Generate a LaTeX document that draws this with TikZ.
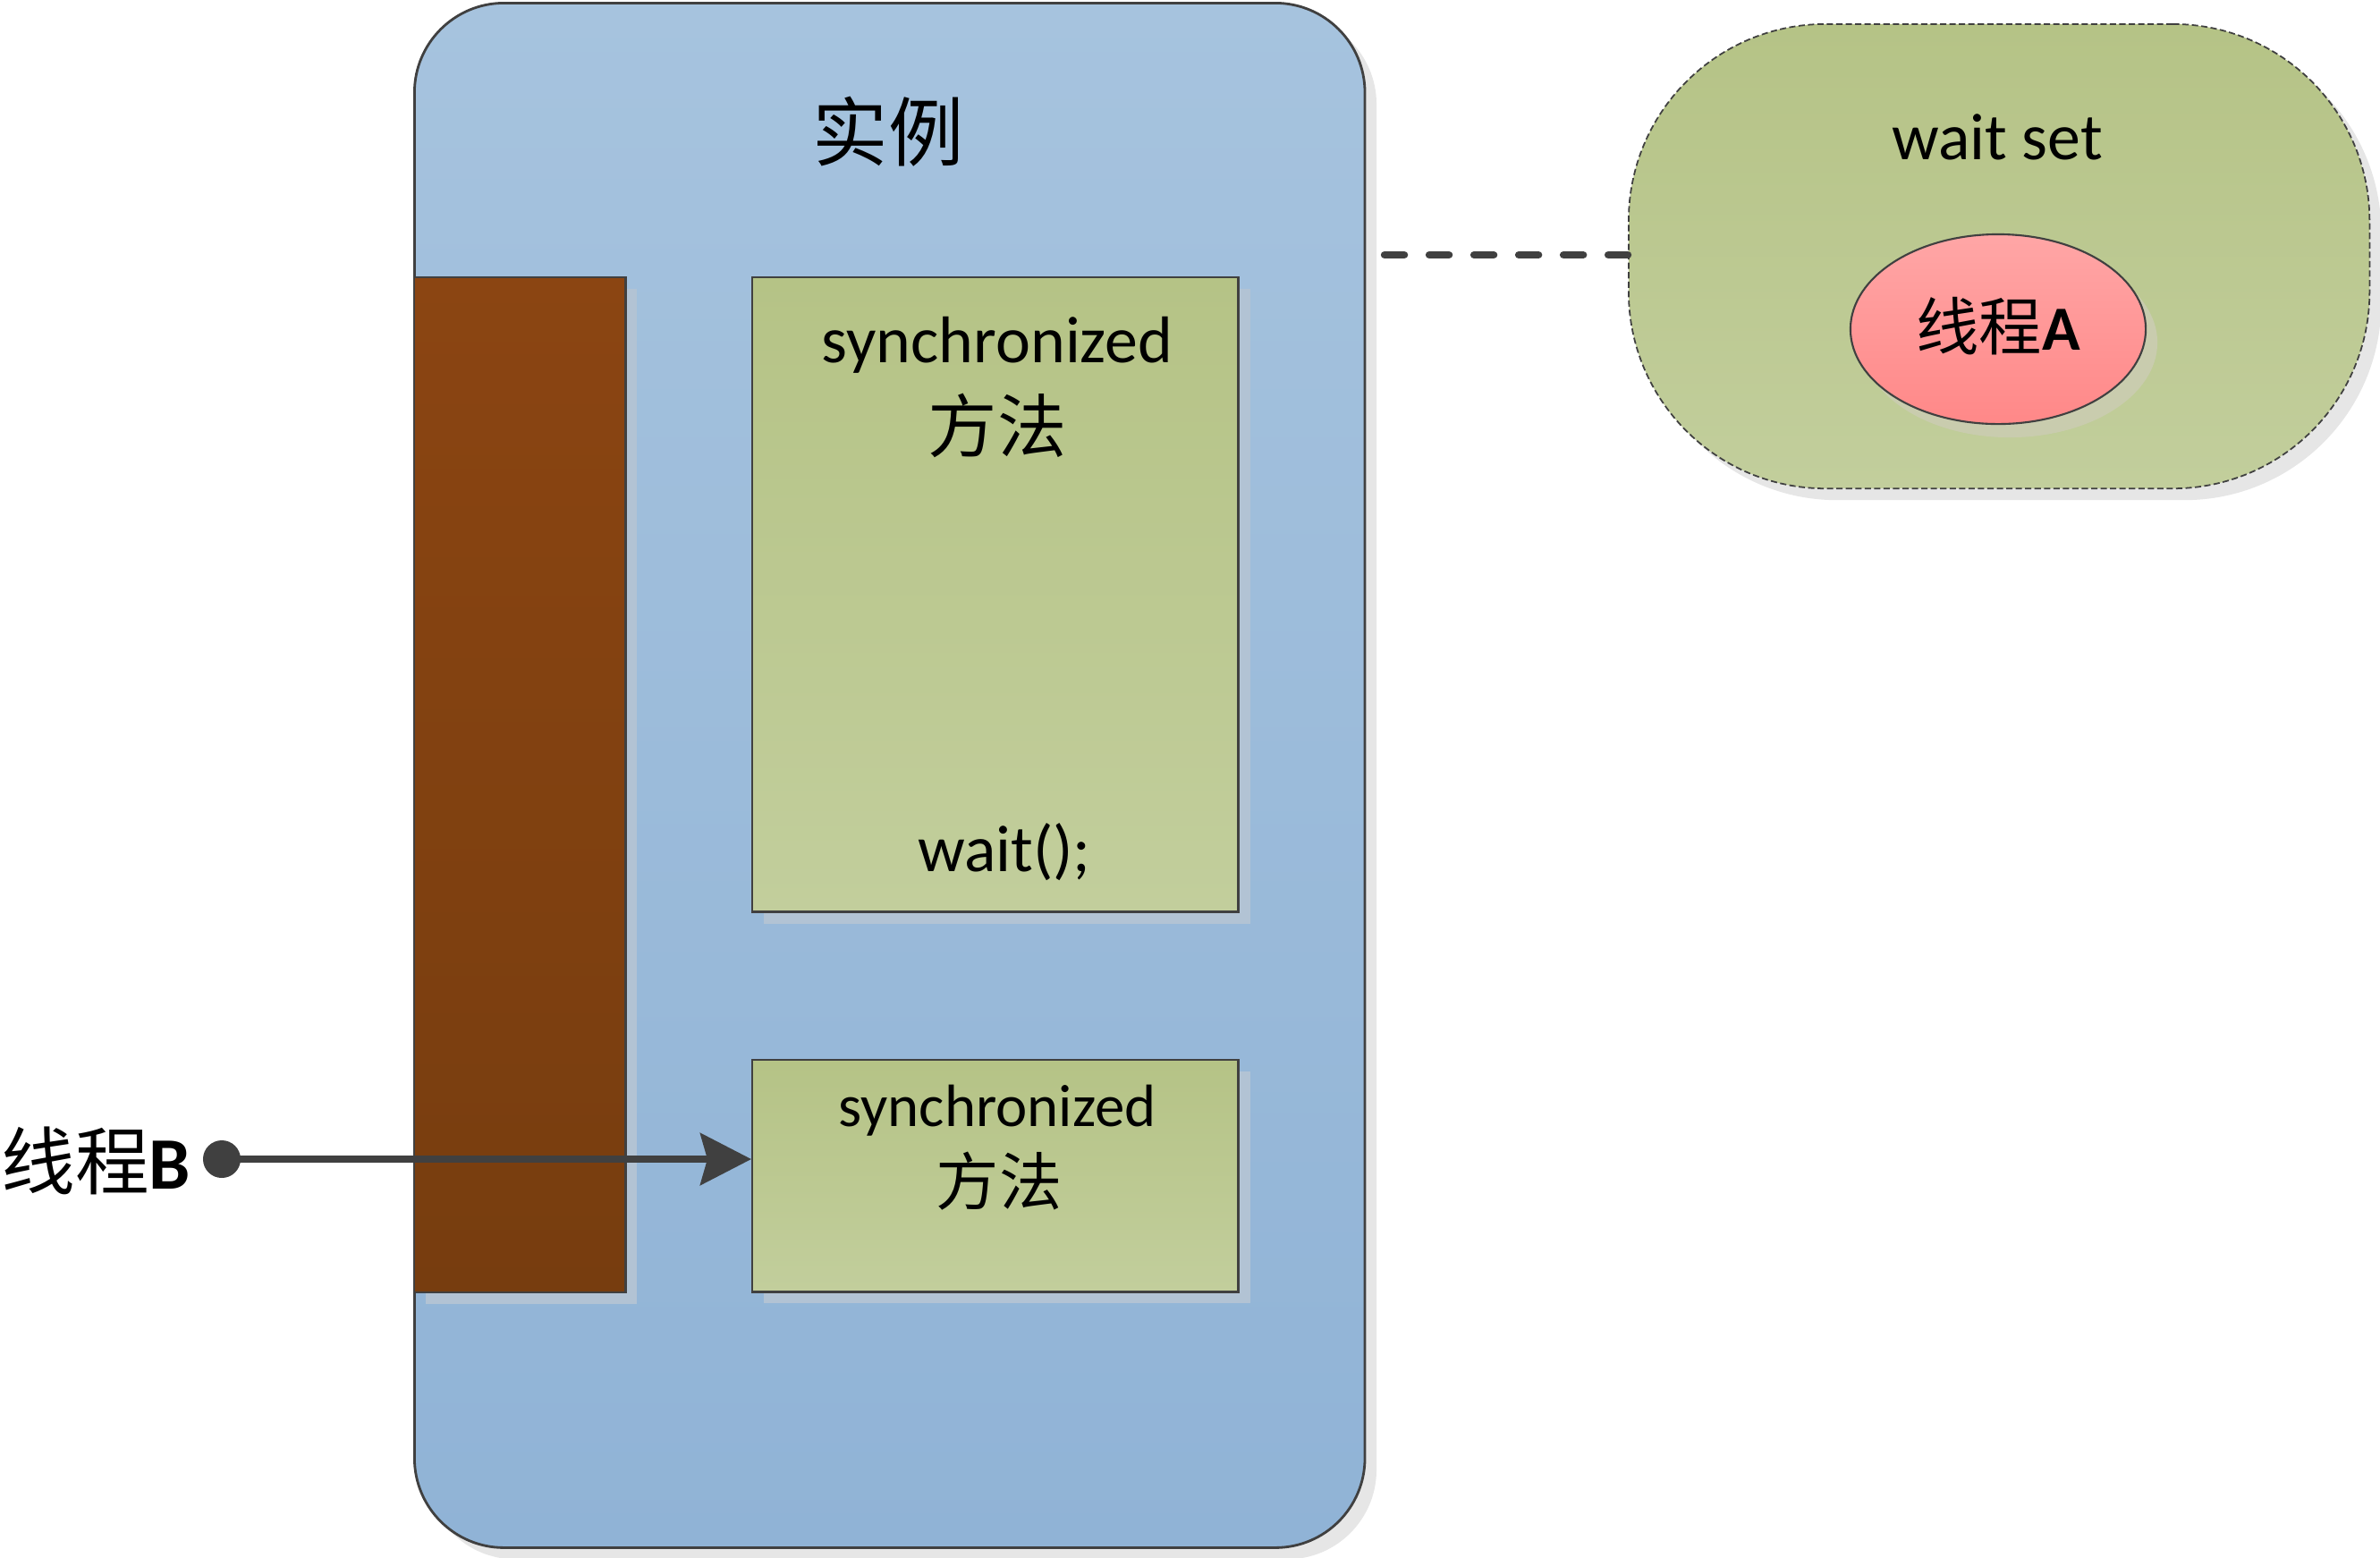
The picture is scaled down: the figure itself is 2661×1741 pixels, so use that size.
\documentclass[tikz,border=0pt]{standalone}
\usepackage{fontspec}
\setmainfont{Carlito}
\newfontfamily\cjk{Noto Sans CJK SC}
\usetikzlibrary{shapes.geometric,shadows,arrows.meta,calc}
\definecolor{edgegray}{HTML}{404040}
\definecolor{bluetop}{HTML}{A6C3DE}
\definecolor{bluebot}{HTML}{90B3D6}
\definecolor{browntop}{HTML}{8B4512}
\definecolor{brownbot}{HTML}{773D0F}
\definecolor{greentop}{HTML}{B5C386}
\definecolor{greenbot}{HTML}{C2CE9C}
\definecolor{pinktop}{HTML}{FFA6A6}
\definecolor{pinkbot}{HTML}{FF8888}
\definecolor{innershadow}{HTML}{B2C3D4}
\definecolor{outershadow}{HTML}{E6E6E6}
\definecolor{ellshadow}{HTML}{C9CCAE}
\tikzset{
  boxshadow/.style={general shadow={fill=#1, shadow xshift=0.13cm, shadow yshift=-0.13cm}},
  instbox/.style={draw=edgegray, line width=0.8pt, top color=bluetop, bottom color=bluebot,
    rounded corners=1cm, inner sep=0, anchor=north west, boxshadow=outershadow},
  lockbar/.style={draw=edgegray, line width=0.7pt, top color=browntop, bottom color=brownbot,
    inner sep=0, anchor=north west, boxshadow=innershadow},
  methodbox/.style={draw=edgegray, line width=0.7pt, top color=greentop, bottom color=greenbot,
    inner sep=0, anchor=north west, boxshadow=innershadow},
  waitbox/.style={draw=edgegray, line width=0.5pt, dash pattern=on 2pt off 1pt,
    top color=greentop, bottom color=greenbot, rounded corners=2.2cm,
    inner sep=0, anchor=north west, boxshadow=outershadow},
  threadell/.style={ellipse, draw=edgegray, line width=0.6pt, top color=pinktop, bottom color=pinkbot,
    inner sep=0, general shadow={fill=ellshadow, shadow xshift=0.13cm, shadow yshift=-0.15cm}},
  latintxt/.style={inner sep=0, anchor=base, font=\fontsize{21}{25}\selectfont},
  cjktxt/.style={inner sep=0, font=\cjk\fontsize{22}{26}\selectfont},
  linkline/.style={draw=edgegray, line width=2.4pt, line cap=round, dash pattern=on 0.22cm off 0.28cm},
  arrowline/.style={draw=edgegray, line width=2.1pt, -{Stealth[length=0.57cm, width=0.58cm, inset=0.08cm]}},
}
\begin{document}
\begin{tikzpicture}[x=0.01cm, y=-0.01cm]
\useasboundingbox (0,0) rectangle (2661,1741);
% instance
\node[instbox, minimum width=10.62cm, minimum height=17.26cm] (inst) at (462,2) {};
\node[cjktxt, font=\cjk\fontsize{24}{28}\selectfont] (title) at (993,147) {实例};
% lock bar
\node[lockbar, minimum width=2.36cm, minimum height=11.34cm] (lock) at (462,309) {};
% methods
\node[methodbox, minimum width=5.43cm, minimum height=7.09cm] (m1) at (840,309) {};
\node[latintxt] (m1a) at (1115,405) {synchronized};
\node[cjktxt] (m1b) at (1115,476) {方法};
\node[latintxt] (m1c) at (1123,974) {wait();};
\node[methodbox, minimum width=5.43cm, minimum height=2.59cm] (m2) at (840,1184) {};
\node[latintxt, font=\fontsize{19}{23}\selectfont] (m2a) at (1115,1259) {synchronized};
\node[cjktxt, font=\cjk\fontsize{20}{24}\selectfont] (m2b) at (1117,1321) {方法};
% wait set
\node[waitbox, minimum width=8.28cm, minimum height=5.19cm] (ws) at (1820,26) {};
\node[latintxt] (wsa) at (2233,178) {wait set};
\node[threadell, minimum width=3.30cm, minimum height=2.12cm] (ta) at (2234,368) {};
\node[inner sep=0, font=\fontsize{20}{24}\selectfont] (tatxt) at (2234,365) {{\cjk 线程}\textbf{A}};
% dashed link
\coordinate (linkstart) at (1548,285);
\draw[linkline] (linkstart) -- (ws.west |- linkstart);
% thread B
\node[inner sep=0, anchor=east, font=\fontsize{23.5}{28}\selectfont] (tb) at (214,1298) {{\cjk 线程}\textbf{B}};
\node[circle, fill=edgegray, minimum size=0.42cm, inner sep=0] (dotb) at (248,1296) {};
\draw[arrowline] (dotb.center) -- (dotb.center -| m2.west);
\end{tikzpicture}
\end{document}
